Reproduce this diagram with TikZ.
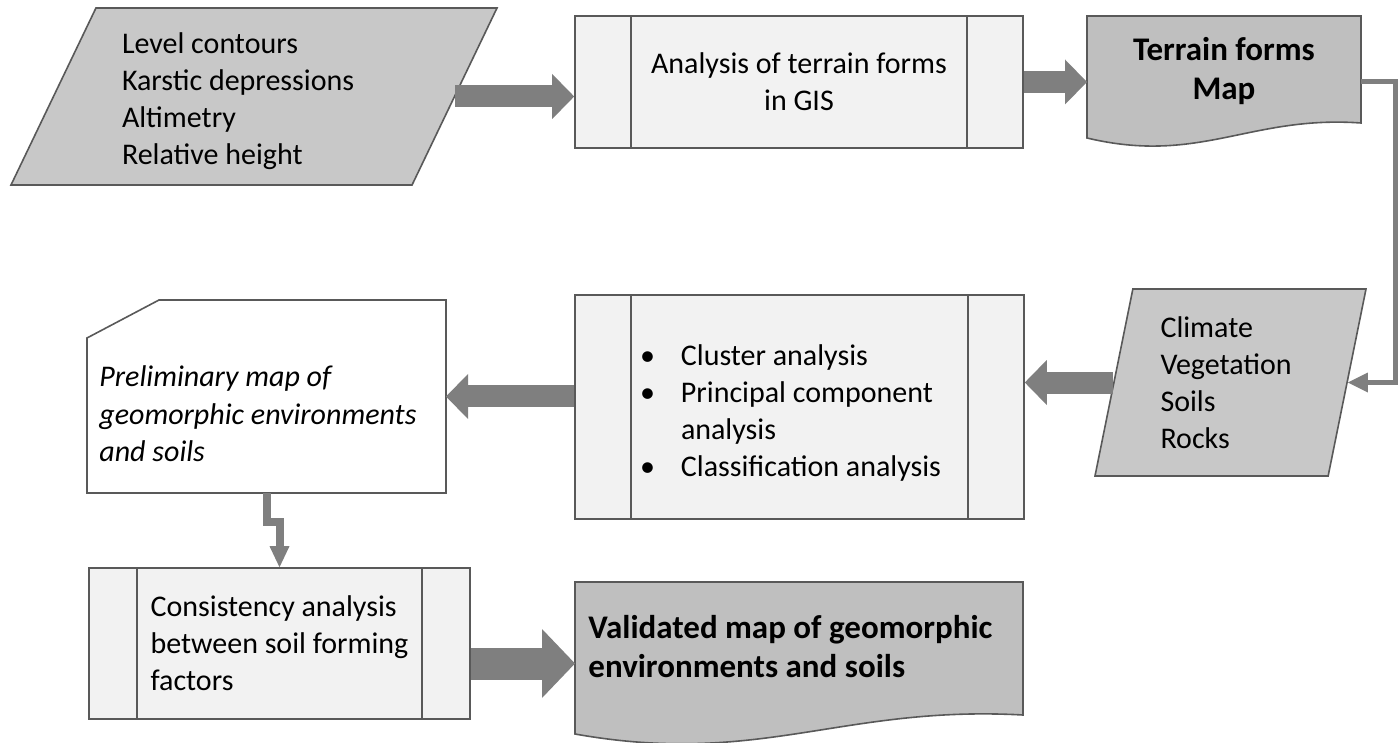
\documentclass[tikz,border=0pt]{standalone}
\usepackage{fontspec}
\setmainfont{Carlito}
\usetikzlibrary{shapes.geometric,arrows.meta,calc}
\definecolor{linegray}{HTML}{595959}
\definecolor{arrowgray}{HTML}{7F7F7F}
\definecolor{boxfill}{HTML}{F2F2F2}
\definecolor{datafill}{HTML}{C8C8C8}
\definecolor{mapfill}{HTML}{BFBFBF}
\tikzset{
  txt/.style={font=\fontsize{15pt}{18.5pt}\selectfont},
  itxt/.style={font=\fontsize{15pt}{18.5pt}\selectfont\itshape},
  btxt/.style={font=\fontsize{16.5pt}{19.5pt}\selectfont\bfseries},
  procbox/.style={draw=linegray, fill=boxfill, line width=0.8pt, inner sep=0pt,
    path picture={\draw[linegray, line width=0.8pt]
      ([xshift=#1]path picture bounding box.north west) -- ([xshift=#1]path picture bounding box.south west)
      ([xshift=-#1]path picture bounding box.north east) -- ([xshift=-#1]path picture bounding box.south east);}},
  procbox/.default=28pt,
  databox/.style={trapezium, trapezium stretches body, draw=linegray, fill=datafill,
    line width=0.8pt, inner sep=0pt, txt, align=flush left},
  shapebox/.style={inner sep=0pt, outer sep=0pt},
  mapshape/.style={draw=linegray, fill=mapfill, line width=0.8pt},
  fatarrow/.style={arrowgray, line width=11pt, -{Triangle[width=22.5pt,length=11pt,line width=0pt]}},
  widearrow/.style={arrowgray, line width=16pt, -{Triangle[width=34.5pt,length=16.5pt,line width=0pt]}},
  thinarrow/.style={arrowgray, line width=2.5pt, -{Triangle[width=10pt,length=10pt,line width=0pt]}},
  steparrow/.style={arrowgray, line width=4pt, -{Triangle[width=10pt,length=10.5pt,line width=0pt]}}
}
\begin{document}
\begin{tikzpicture}[x=0.5pt,y=-0.5pt]
\useasboundingbox (0,0) rectangle (1399,743);
\node[databox, trapezium left angle=60, trapezium right angle=120, minimum width=243pt,
  minimum height=88.5pt, text width=132pt] (in1) at (254,96.5)
  {\rule{0pt}{15.5pt}Level contours\\Karstic depressions\\Altimetry\\Relative height};
\node[procbox, txt, align=center, minimum width=224pt, minimum height=66pt] (gis) at (799,82)
  {Analysis of terrain forms\\in GIS};
\node[shapebox, minimum width=137pt, minimum height=65.5pt] (terr) at (1224,81.5) {};
\draw[mapshape] (terr.north west) -- (terr.north east) -- ($(terr.south east)+(0,-24)$)
  .. controls ($(terr.south east)+(-111,-32)$) and ($(terr.south west)+(113,18)$) .. ($(terr.south west)+(0,-9)$) -- cycle;
\node[btxt, align=center, anchor=base] (terrtxt) at (1224,100) {Terrain forms\\Map};
\node[databox, trapezium left angle=74, trapezium right angle=106, minimum width=135.5pt,
  minimum height=93.5pt, text width=70pt] (clim) at (1230.5,382.5)
  {Climate\\Vegetation\\Soils\\Rocks};
\node[procbox, txt, align=flush left, text width=159.5pt, minimum width=224.5pt, minimum height=112pt] (clus) at (799.5,407)
  {\rule{0pt}{16pt}\textbullet\hspace{13pt}Cluster analysis\\
   \textbullet\hspace{13pt}Principal component\\
   \hspace*{20.5pt}analysis\\
   \textbullet\hspace{13pt}Classification analysis};
\node[shapebox, minimum width=179.5pt, minimum height=96.5pt] (prelim) at (266.5,396.5) {};
\draw[linegray, line width=0.8pt] ([yshift=-19pt]prelim.north west) -- ([xshift=36pt]prelim.north west)
  -- (prelim.north east) -- (prelim.south east) -- (prelim.south west) -- cycle;
\node[itxt, align=left, anchor=base west, inner sep=0pt] (prelimtxt) at (99,461)
  {Preliminary map of\\geomorphic environments\\and soils};
\node[procbox=24pt, txt, align=left, minimum width=190.5pt, minimum height=75.5pt] (cons) at (279.5,643.5)
  {Consistency analysis\\between soil forming\\factors};
\node[shapebox, minimum width=224pt, minimum height=81.5pt] (valid) at (799,663.5) {};
\draw[mapshape] (valid.north west) -- (valid.north east) -- ($(valid.south east)+(0,-30)$)
  .. controls ($(valid.south east)+(-181,-40)$) and ($(valid.south west)+(185,22)$) .. ($(valid.south west)+(0,-11)$) -- cycle;
\node[btxt, align=left, anchor=base west, inner sep=0pt] (validtxt) at (588,677)
  {Validated map of geomorphic\\environments and soils};
\draw[fatarrow] (in1.east) -- (in1.east -| gis.west);
\draw[fatarrow] (gis.east) -- (gis.east -| terr.west);
\draw[thinarrow] (terr.east) -- ([xshift=17pt]terr.east) |- (clim.east);
\draw[fatarrow] (clim.west) -- (clim.west -| clus.east);
\draw[fatarrow] (clus.west |- prelim.east) -- (prelim.east);
\draw[steparrow] (prelim.south) -- ([yshift=-14.5pt]prelim.south) -| (cons.north);
\draw[widearrow] (cons.east |- valid.west) -- (valid.west);
\end{tikzpicture}
\end{document}
